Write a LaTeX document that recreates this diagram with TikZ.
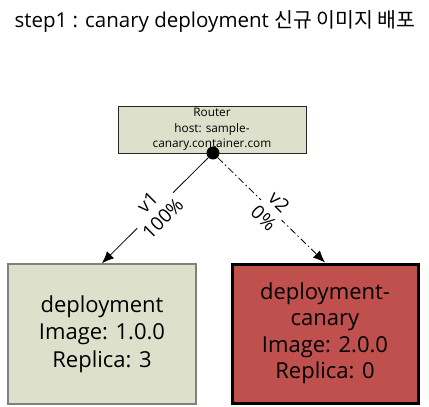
\documentclass[tikz,border=0pt]{standalone}
\usepackage{fontspec}
\setmainfont{Open Sans}
\newfontfamily\krfont{Noto Sans CJK KR}
\usetikzlibrary{arrows.meta}
\definecolor{paleolive}{RGB}{221,225,204}
\definecolor{canaryred}{RGB}{192,80,77}
\tikzset{
	routerbox/.style={draw=black!85, line width=0.8pt, fill=paleolive, minimum width=188pt, minimum height=47pt, align=center, inner sep=1pt, font=\fontsize{11.8}{15.5}\selectfont},
	stablebox/.style={draw=black!50, line width=1.5pt, fill=paleolive, minimum width=188pt, minimum height=140pt, align=center, font=\fontsize{22}{27.5}\selectfont},
	canarybox/.style={draw=black, line width=3pt, fill=canaryred, minimum width=186pt, minimum height=139pt, align=center, font=\fontsize{22}{26.5}\selectfont},
	hubdot/.style={circle, fill=black, minimum size=13pt, inner sep=0pt},
	flow/.style={line width=0.8pt, -{Latex[length=12pt,width=10pt]}},
	weight/.style={midway, sloped, fill=white, align=center, inner sep=1pt, font=\fontsize{19}{22}\selectfont}
}
\begin{document}
\begin{tikzpicture}[x=1pt, y=-1pt]
			%%%%% START %%%%%
			
			\useasboundingbox (0, 0) rectangle (429, 407);
			
			\node[anchor=west, font=\fontsize{20.5}{20.5}\selectfont] (title) at (11, 21) {step1 : canary deployment {\krfont 신규 이미지 배포}};
			
			\node[routerbox] (router) at (212, 129.5) {Router\\host: sample-\\canary.container.com};
			\node[hubdot] (hub) at (213, 153) {};
			
			\node[stablebox] (stable) at (102, 334) {deployment\\Image: 1.0.0\\Replica: 3};
			\node[canarybox] (canary) at (325, 333.5) {deployment-\\canary\\Image: 2.0.0\\Replica: 0};
			
			\draw[flow] (hub) -- (stable.north) node[weight] {v1\\100\%};
			\draw[flow, dash pattern=on 7pt off 3pt on 1.5pt off 3pt] (hub) -- (canary.north) node[weight] {v2\\0\%};
			
			%%%%% END %%%%%
\end{tikzpicture}
\end{document}
